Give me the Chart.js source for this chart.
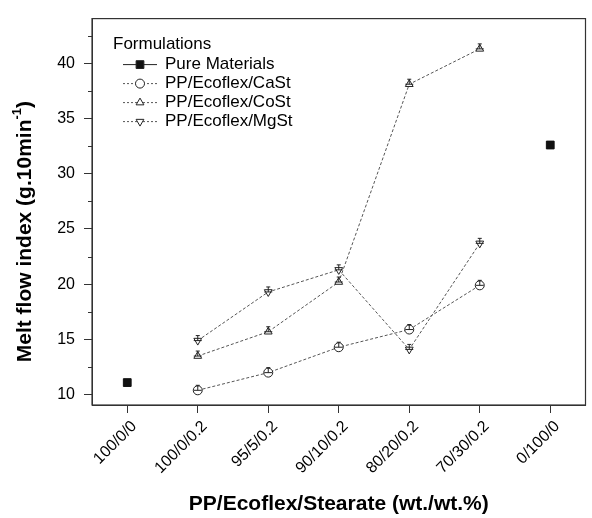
<!DOCTYPE html>
<html>
<head>
<meta charset="utf-8">
<script src="https://cdn.jsdelivr.net/npm/chart.js@4/dist/chart.umd.min.js"></script>
<style>
  html, body { margin: 0; padding: 0; background: #fff; }
  #wrap { width: 592px; height: 518px; }
</style>
</head>
<body>
<div id="wrap"><canvas id="mfi"></canvas></div>
<script>
// Melt flow index of the formulations

const categories = ['100/0/0', '100/0/0.2', '95/5/0.2', '90/10/0.2', '80/20/0.2', '70/30/0.2', '0/100/0'];
const pureMaterials = [11.1, null, null, null, null, null, 32.6];
const caSt = [null, 10.4, 12.0, 14.3, 15.9, 19.9, null];
const coSt = [null, 13.5, 15.7, 20.2, 38.1, 41.3, null];
const mgSt = [null, 14.9, 19.3, 21.3, 14.1, 23.7, null];
const yTicks = [10, 12.5, 15, 17.5, 20, 22.5, 25, 27.5, 30, 32.5, 35, 37.5, 40, 42.5];

const FONT = "'Liberation Sans', Arial, sans-serif";
const AXIS = '#333';

function drawMarker(ctx, style, x, y, r, rot, filled) {
    ctx.save();
    ctx.beginPath();
    if (style === 'rect') {
        const s = r * Math.SQRT1_2;
        ctx.rect(x - s, y - s, 2 * s, 2 * s);
    } else if (style === 'circle') {
        ctx.arc(x, y, r, 0, Math.PI * 2);
    } else {
        let a = (rot || 0) * Math.PI / 180;
        ctx.moveTo(x + Math.sin(a) * r, y - Math.cos(a) * r);
        a += 2 * Math.PI / 3;
        ctx.lineTo(x + Math.sin(a) * r, y - Math.cos(a) * r);
        a += 2 * Math.PI / 3;
        ctx.lineTo(x + Math.sin(a) * r, y - Math.cos(a) * r);
        ctx.closePath();
    }
    ctx.fillStyle = filled ? '#111' : '#fff';
    ctx.fill();
    ctx.strokeStyle = '#222';
    ctx.lineWidth = 1;
    ctx.stroke();
    ctx.restore();
}

// frame, minor ticks, small error marks, legend and y title
const extras = {
    id: 'extras',
    afterDatasetsDraw(chart) {
        const ctx = chart.ctx;
        const a = chart.chartArea;
        ctx.save();
        // small error bar marks inside the open symbols
        chart.data.datasets.forEach((ds, i) => {
            if (ds.filled) return;
            const meta = chart.getDatasetMeta(i);
            meta.data.forEach((pt, j) => {
                if (ds.data[j] == null) return;
                ctx.strokeStyle = '#222';
                ctx.lineWidth = 1;
                ctx.beginPath();
                ctx.moveTo(pt.x - 4, pt.y);
                ctx.lineTo(pt.x + 4, pt.y);
                ctx.moveTo(pt.x, pt.y);
                ctx.lineTo(pt.x, pt.y - 5);
                ctx.moveTo(pt.x - 2, pt.y - 5);
                ctx.lineTo(pt.x + 2, pt.y - 5);
                ctx.stroke();
            });
        });
        // frame
        ctx.strokeStyle = AXIS;
        ctx.lineWidth = 1.2;
        ctx.strokeRect(a.left, a.top, a.right - a.left, a.bottom - a.top);
        // minor ticks on y
        const ys = chart.scales.y;
        ctx.beginPath();
        yTicks.forEach(v => {
            if (v % 5 === 0) return;
            const py = Math.round(ys.getPixelForValue(v)) + 0.5;
            ctx.moveTo(a.left - 4, py);
            ctx.lineTo(a.left, py);
        });
        ctx.lineWidth = 1;
        ctx.stroke();

        // legend
        ctx.fillStyle = '#000';
        ctx.font = '17px ' + FONT;
        ctx.textBaseline = 'middle';
        ctx.textAlign = 'left';
        ctx.fillText('Formulations', a.left + 21, a.top + 26);
        chart.data.datasets.forEach((ds, i) => {
            const yy = a.top + 46 + i * 19;
            ctx.save();
            ctx.strokeStyle = ds.filled ? '#222' : '#555';
            ctx.lineWidth = 1;
            ctx.setLineDash(ds.filled ? [] : [2, 2]);
            ctx.beginPath();
            ctx.moveTo(a.left + 31, yy);
            ctx.lineTo(a.left + 65, yy);
            ctx.stroke();
            ctx.restore();
            drawMarker(ctx, ds.pointStyle, a.left + 48, yy, ds.filled ? 5.5 : 4.5, ds.pointRotation, ds.filled);
            ctx.fillStyle = '#000';
            ctx.fillText(ds.label, a.left + 73, yy);
        });

        // y axis title with superscript
        const main = 'Melt flow index (g.10min';
        const sup = '-1';
        const end = ')';
        ctx.font = 'bold 21px ' + FONT;
        const w1 = ctx.measureText(main).width;
        const w3 = ctx.measureText(end).width;
        ctx.font = 'bold 13px ' + FONT;
        const w2 = ctx.measureText(sup).width;
        const total = w1 + w2 + w3;
        ctx.translate(25, a.top + 213);
        ctx.rotate(-Math.PI / 2);
        ctx.textAlign = 'left';
        ctx.fillStyle = '#000';
        ctx.font = 'bold 21px ' + FONT;
        ctx.fillText(main, -total / 2, 0);
        ctx.fillText(end, -total / 2 + w1 + w2, 0);
        ctx.font = 'bold 13px ' + FONT;
        ctx.fillText(sup, -total / 2 + w1, -8);
        ctx.restore();
    }
};

const openSeries = (label, data, style, rot) => ({
    label: label,
    data: data,
    borderColor: '#555',
    borderWidth: 1,
    borderDash: [3, 2],
    pointStyle: style,
    pointRotation: rot,
    pointRadius: 4.5,
    pointHoverRadius: 4.5,
    pointBackgroundColor: '#fff',
    pointBorderColor: '#222',
    pointBorderWidth: 1,
    filled: false
});

const ctx = document.getElementById('mfi').getContext('2d');
new Chart(ctx, {
    type: 'line',
    data: {
        labels: categories,
        datasets: [
            {
                label: 'Pure Materials',
                data: pureMaterials,
                showLine: false,
                pointStyle: 'rect',
                pointRadius: 5.5,
                pointHoverRadius: 5.5,
                pointBackgroundColor: '#111',
                pointBorderColor: '#111',
                borderColor: '#111',
                filled: true
            },
            openSeries('PP/Ecoflex/CaSt', caSt, 'circle', 0),
            openSeries('PP/Ecoflex/CoSt', coSt, 'triangle', 0),
            openSeries('PP/Ecoflex/MgSt', mgSt, 'triangle', 180)
        ]
    },
    options: {
        responsive: true,
        maintainAspectRatio: false,
        animation: false,
        events: [],
        layout: { padding: { top: 7, right: 6, left: 0, bottom: 0 } },
        plugins: {
            legend: { display: false },
            tooltip: { enabled: false }
        },
        scales: {
            x: {
                type: 'category',
                offset: true,
                afterFit: s => { s.height = 113; },
                grid: {
                    drawOnChartArea: false,
                    offset: false,
                    color: AXIS,
                    tickLength: 8
                },
                border: { display: true, color: AXIS, width: 1 },
                ticks: {
                    color: '#000',
                    font: { family: FONT, size: 16 },
                    minRotation: 45,
                    maxRotation: 45,
                    padding: 4,
                    labelOffset: 7,
                    autoSkip: false
                },
                title: {
                    display: true,
                    text: 'PP/Ecoflex/Stearate (wt./wt.%)',
                    color: '#000',
                    font: { family: FONT, size: 21, weight: 'bold' },
                    padding: { top: 0, bottom: 1 }
                }
            },
            y: {
                min: 9.07,
                max: 44.04,
                afterFit: s => { s.width = 92; },
                afterBuildTicks: s => { s.ticks = yTicks.map(v => ({ value: v })); },
                grid: {
                    drawOnChartArea: false,
                    tickLength: 8,
                    color: c => (c.tick && c.tick.value % 5 === 0) ? AXIS : 'rgba(0,0,0,0)'
                },
                border: { display: true, color: AXIS, width: 1 },
                ticks: {
                    color: '#000',
                    font: { family: FONT, size: 16 },
                    padding: 9,
                    callback: v => (v % 5 === 0 ? v : '')
                },
                title: { display: false }
            }
        }
    },
    plugins: [extras]
});
</script>
</body>
</html>
